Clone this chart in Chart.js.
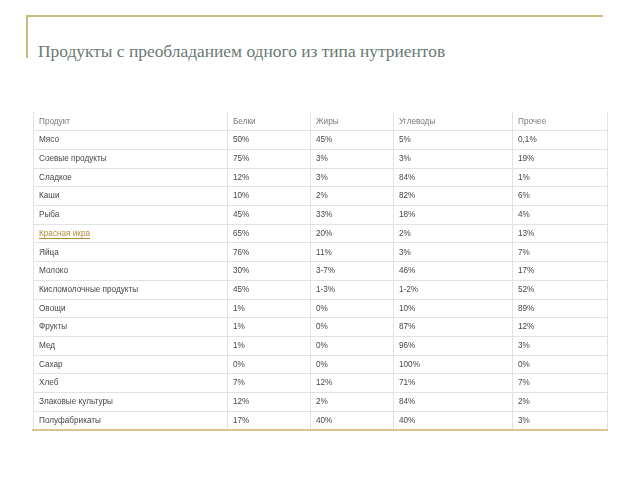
<!DOCTYPE html>
<html><head><meta charset="utf-8">
<script src="https://cdn.jsdelivr.net/npm/chart.js@4.4.1/dist/chart.umd.min.js"></script>
<style>
html,body{margin:0;padding:0;background:#fff;width:640px;height:480px;overflow:hidden}
#wrap{position:relative;width:640px;height:480px}
#frame{position:absolute;left:26px;top:15px;width:577px;height:43px;border-top:2px solid #cdb979;border-left:2px solid #cdb979;box-sizing:border-box}
#title{position:absolute;left:38px;top:43px;margin:0;font:17.4px/17px "Liberation Serif",serif;color:#6a7a72;font-weight:normal;white-space:nowrap}
canvas{position:absolute;left:0;top:0}
</style></head>
<body><div id="wrap">
<div id="frame"></div>
<h1 id="title">Продукты с преобладанием одного из типа нутриентов</h1>
<canvas id="c" width="640" height="480"></canvas>
</div>
<script>
const headers = ['Продукт','Белки','Жиры','Углеводы','Прочее'];
const products = ['Мясо','Соевые продукты','Сладкое','Каши','Рыба','Красная икра','Яйца','Молоко','Кисломолочные продукты','Овощи','Фрукты','Мед','Сахар','Хлеб','Злаковые культуры','Полуфабрикаты'];
const protein = ['50%','75%','12%','10%','45%','65%','76%','30%','45%','1%','1%','1%','0%','7%','12%','17%'];
const fat = ['45%','3%','3%','2%','33%','20%','11%','3-7%','1-3%','0%','0%','0%','0%','12%','2%','40%'];
const carbs = ['5%','3%','84%','82%','18%','2%','3%','46%','1-2%','10%','87%','96%','100%','71%','84%','40%'];
const other = ['0,1%','19%','1%','6%','4%','13%','7%','17%','52%','89%','12%','3%','0%','7%','2%','3%'];
const linkRows = ['Красная икра'];

const rowLabels = [headers[0]].concat(products);
const colEdges = [0,194,277,360,479,574];
const FONT = {family:'"Liberation Sans", Arial, sans-serif', size:8.2};
const headerColor = '#7a7a7a', bodyColor = '#474747', linkColor = '#b08c3c', gridColor = '#e2e2e2';
const cellPad = 6;

const cellText = {
  id:'cellText',
  afterDraw(chart){
    const {ctx, scales:{x,y}} = chart;
    ctx.save();
    ctx.font = FONT.size + 'px ' + FONT.family;
    ctx.textBaseline = 'middle'; ctx.textAlign = 'left';
    const cols = [protein, fat, carbs, other];
    cols.forEach((col, ci) => {
      const px = x.getPixelForValue(colEdges[ci+1]) + cellPad;
      ctx.fillStyle = headerColor;
      ctx.fillText(headers[ci+1], px, y.getPixelForValue(0));
      ctx.fillStyle = bodyColor;
      col.forEach((v, ri) => ctx.fillText(v, px, y.getPixelForValue(ri+1)));
    });
    linkRows.forEach(name => {
      const i = rowLabels.indexOf(name);
      const w = ctx.measureText(name).width;
      const lx = x.getPixelForValue(colEdges[0]) + cellPad;
      const ly = Math.round(y.getPixelForValue(i) + 4) + 0.5;
      ctx.strokeStyle = linkColor; ctx.lineWidth = 1;
      ctx.beginPath(); ctx.moveTo(lx, ly); ctx.lineTo(lx + w, ly); ctx.stroke();
    });
    ctx.restore();
  }
};

new Chart(document.getElementById('c'), {
  type:'scatter',
  data:{datasets:[]},
  options:{
    responsive:false, animation:false, devicePixelRatio:1,
    layout:{padding:{left:21, top:112, right:33, bottom:50}},
    plugins:{legend:{display:false}, tooltip:{enabled:false}, title:{display:false}},
    scales:{
      x:{type:'linear', min:0, max:574,
         afterBuildTicks: s => { s.ticks = colEdges.map(v => ({value:v})); },
         grid:{color:gridColor, lineWidth:1, drawTicks:false},
         ticks:{display:false},
         border:{display:true, color:'#d6c68e', width:2}},
      y:{type:'category', labels:rowLabels, offset:true, position:'left',
         grid:{offset:true, drawTicks:false, lineWidth:1,
               color: c => (c.index === undefined || c.index === 0) ? 'rgba(0,0,0,0)' : gridColor},
         border:{display:false},
         ticks:{mirror:true, padding:cellPad, autoSkip:false, font:FONT,
                color: c => c.index === 0 ? headerColor : (linkRows.includes(rowLabels[c.index]) ? linkColor : bodyColor)}}
    }
  },
  plugins:[cellText]
});
</script>
</body></html>
